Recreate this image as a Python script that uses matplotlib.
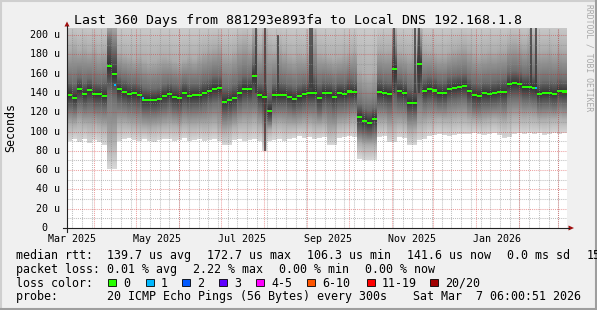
import numpy as np
import pandas as pd
import matplotlib
matplotlib.use('Agg')
import matplotlib.pyplot as plt
import matplotlib.dates as mdates
from matplotlib.transforms import blended_transform_factory
from matplotlib.patches import Rectangle, Polygon
from matplotlib.lines import Line2D

# --- USTAWIENIA ---
W, H = 597, 310
plt.rcParams['font.family'] = ['DejaVu Sans Mono', 'DejaVu Sans']

start = pd.Timestamp('2025-03-12 06:00')
end = pd.Timestamp('2026-03-07 06:00')
step_days = 3.6   # one column of the rrd archive

# median rtt in microseconds, one value per step
median = [
    138, 135, 144, 139, 143, 139, 139, 137, 168, 160,
    144, 141, 139, 139.5, 138, 133, 133, 133, 134, 137,
    139, 136, 135, 140, 137, 137.5, 137.5, 140, 142, 144.5,
    145, 131, 132.5, 135, 140, 144.5, 144, 158, 138, 136,
    121, 137.5, 138, 138, 136, 134, 136.5, 138.5, 140, 140,
    135, 140, 139.5, 136, 140, 139, 141.5, 141, 115, 111,
    109, 113, 141, 140, 139, 165, 142, 140, 130, 130,
    170, 142, 144, 142.5, 140, 140, 144, 145.5, 146.5, 147.5,
    142, 138, 137, 139.5, 139, 140, 141, 141, 149, 150,
    149.5, 146, 146, 145.5, 139, 140, 140, 139, 142, 141.5,
]

# smoke: lowest ping, outer band, dark core band, highest ping
smoke_min = [
    90, 92, 89, 92, 88, 91, 89, 86, 61, 61,
    90, 92, 93, 91, 90, 92, 90, 89, 91, 92,
    92, 90, 91, 93, 90, 91, 92, 90, 91, 92,
    90, 86, 86, 91, 92, 90, 91, 92, 90, 80,
    90, 91, 92, 90, 92, 93, 95, 93, 94, 92,
    93, 94, 86, 86, 93, 94, 95, 94, 72, 70,
    70, 71, 94, 95, 89, 89, 94, 93, 86, 86,
    91, 92, 95, 96, 97, 96, 95, 96, 97, 97,
    97, 98, 97, 96, 97, 98, 96, 93, 94, 97,
    98, 97, 98, 97, 98, 96, 97, 98, 97, 98,
]
smoke_p10 = [
    108, 107, 110, 108, 107, 108, 106, 104, 90, 92,
    108, 108, 107, 106, 105, 104, 103, 104, 105, 106,
    107, 106, 105, 107, 106, 106, 107, 106, 107, 108,
    104, 100, 102, 105, 108, 109, 108, 110, 106, 98,
    102, 107, 108, 107, 106, 106, 107, 108, 108, 106,
    106, 107, 100, 101, 107, 108, 109, 110, 88, 86,
    86, 86, 108, 109, 104, 106, 108, 107, 100, 101,
    108, 109, 111, 112, 113, 112, 112, 113, 114, 114,
    112, 111, 110, 111, 112, 113, 112, 110, 113, 115,
    115, 114, 115, 114, 112, 112, 113, 113, 114, 113,
]
smoke_p30 = [
    124, 122, 128, 125, 127, 125, 125, 124, 140, 135,
    128, 127, 125, 125, 124, 120, 120, 120, 121, 123,
    125, 122, 121, 125, 123, 124, 124, 126, 128, 130,
    130, 117, 118, 121, 126, 129, 129, 130, 124, 118,
    110, 124, 125, 125, 123, 121, 123, 125, 126, 126,
    120, 125, 124, 121, 125, 125, 127, 127, 100, 98,
    97, 99, 127, 126, 124, 130, 127, 126, 117, 117,
    135, 128, 130, 129, 127, 127, 131, 132, 133, 134,
    128, 124, 124, 126, 126, 127, 128, 127, 134, 135,
    135, 132, 132, 131, 126, 127, 127, 126, 129, 128,
]
smoke_p70 = [
    152, 150, 156, 152, 155, 152, 151, 152, 195, 185,
    157, 154, 152, 151, 150, 146, 145, 145, 146, 149,
    151, 149, 148, 152, 150, 150, 150, 153, 155, 158,
    158, 146, 146, 149, 154, 158, 157, 172, 151, 150,
    140, 150, 152, 151, 149, 147, 149, 151, 153, 160,
    150, 153, 152, 150, 152, 152, 155, 154, 128, 124,
    122, 125, 155, 153, 152, 180, 155, 153, 146, 146,
    185, 155, 157, 156, 153, 153, 157, 158, 159, 160,
    155, 151, 150, 152, 152, 153, 154, 155, 162, 163,
    162, 159, 160, 158, 152, 153, 153, 152, 155, 154,
]
smoke_p90 = [
    186, 190, 185, 188, 184, 187, 183, 186, 210, 210,
    182, 180, 178, 176, 178, 175, 172, 174, 176, 178,
    176, 174, 172, 175, 178, 176, 180, 184, 186, 188,
    190, 182, 180, 184, 192, 195, 190, 205, 186, 200,
    188, 185, 190, 184, 180, 178, 182, 180, 183, 200,
    182, 180, 178, 176, 178, 180, 182, 184, 165, 160,
    158, 162, 186, 184, 185, 205, 184, 182, 180, 182,
    205, 186, 184, 182, 180, 180, 183, 186, 188, 190,
    186, 182, 180, 182, 184, 183, 185, 186, 192, 194,
    192, 190, 195, 196, 184, 185, 186, 184, 186, 185,
]
smoke_max = 215   # highest ping is above the top of the graph almost everywhere

# single slow pings, drawn as thin dark streaks
spike_dates = ['2025-07-26', '2025-08-02', '2025-08-11', '2025-09-03', '2025-09-05',
               '2025-11-03', '2025-11-18', '2025-11-21', '2026-02-09', '2026-02-13']
spike_lo = [140, 80, 140, 145, 145, 140, 140, 140, 145, 140]
spike_hi = [210, 210, 200, 210, 210, 210, 210, 210, 210, 210]

# steps with one lost ping
loss_dates = ['2025-04-15', '2025-05-05', '2026-02-12']
loss_rtt = [148, 135, 145]

ytick_values = [0, 20, 40, 60, 80, 100, 120, 140, 160, 180, 200]
xtick_labels = ['Mar 2025', 'May 2025', 'Jul 2025', 'Sep 2025', 'Nov 2025', 'Jan 2026']
xtick_dates = ['2025-03-16', '2025-05-16', '2025-07-16', '2025-09-16', '2025-11-16', '2026-01-16']

loss_names = ['0', '1', '2', '3', '4-5', '6-10', '11-19', '20/20']
loss_colors = ['#26ff00', '#00b8ff', '#0059ff', '#5e00ff', '#ff00ff', '#ff5500', '#ff0000', '#a10000']

legend_rtt = ['median rtt:  139.7 us avg', '172.7 us max', '106.3 us min', '141.6 us now',
              '0.0 ms sd', '15']
legend_loss = ['packet loss: 0.01 % avg', '2.22 % max', '0.00 % min', '0.00 % now']

# grey level of the smoke at min, p10, p30, median, p70, p90, max
shade = [0.85, 0.68, 0.43, 0.2, 0.43, 0.68, 0.82]
# --------------------


def fx(px):
    return px / W


def fy(py):
    return 1 - py / H


def ext(a):
    # repeat last value so step='post' draws the last column too
    a = np.asarray(a, dtype=float)
    return np.append(a, a[-1])


def legend_row(items, py, fs=8.4):
    # rrdtool puts a fixed gap of a bit more than two characters between items
    x = 16
    for it in items:
        fig.text(fx(x), fy(py), it, ha='left', va='baseline', fontsize=fs)
        x += len(it) * 7.02 + 15.8


fig = plt.figure(figsize=(W / 100, H / 100), dpi=100, facecolor='#f0f0f0')
ax = fig.add_axes([fx(67), fy(228), 500 / W, 200 / H])
ax.set_facecolor('white')
for s in ax.spines.values():
    s.set_visible(False)

t0 = mdates.date2num(start)
t = t0 + np.arange(len(median) + 1) * step_days

# smoke as a grey picture, one column per step, darkest at the median
yy = np.linspace(0, smoke_max, 860)
img = np.zeros((len(yy), len(median), 4))
for c in range(len(median)):
    xp = [smoke_min[c], smoke_p10[c], smoke_p30[c], median[c], smoke_p70[c], smoke_p90[c], smoke_max]
    g = np.interp(yy, xp, shade)
    inside = yy >= smoke_min[c]
    img[inside, c, 0] = g[inside]
    img[inside, c, 1] = g[inside]
    img[inside, c, 2] = g[inside]
    img[inside, c, 3] = 1
ax.imshow(img, extent=[t[0], t[-1], 0, smoke_max], origin='lower', aspect='auto',
          interpolation='nearest', zorder=1)
ax.vlines(mdates.date2num(pd.to_datetime(spike_dates)), spike_lo, spike_hi,
          color='#3a3a3a', lw=1.1, zorder=3.5)

# grid on top of the smoke
gkw = dict(lw=0.75, linestyle=(0, (1, 1)), zorder=4)
for d in pd.date_range(start.normalize(), end, freq='W-SUN'):
    ax.axvline(mdates.date2num(d), color='#8c8c8c', alpha=0.55, **gkw)
for v in range(10, 210, 20):
    ax.axhline(v, color='#8c8c8c', alpha=0.55, **gkw)
for d in pd.date_range('2025-04-01', end, freq='MS'):
    ax.axvline(mdates.date2num(d), color='#d42020', alpha=0.42, **gkw)
for v in range(20, 210, 20):
    ax.axhline(v, color='#d42020', alpha=0.42, **gkw)

# median as short green bars
med = ext(median)
ax.fill_between(t, med - 1.1, med + 1.1, step='post', color=loss_colors[0], lw=0, zorder=5)
for d, v in zip(loss_dates, loss_rtt):
    d0 = mdates.date2num(pd.Timestamp(d))
    ax.fill_between([d0, d0 + 1.5], v - 1.1, v + 1.1, color=loss_colors[1], lw=0, zorder=5.5)

ax.set_xlim(t0, mdates.date2num(end))
ax.set_ylim(0, 207.3)
ax.set_xticks([])
ax.set_yticks([])

# tick labels
tr_y = blended_transform_factory(fig.transFigure, ax.transData)
for v in ytick_values:
    lab = f'{v:3d} u' if v > 0 else '  0'
    ax.text(fx(29.5), v, lab, transform=tr_y, ha='left', va='center', fontsize=7.2, color='black')
tr_x = blended_transform_factory(ax.transData, fig.transFigure)
for d, lab in zip(xtick_dates, xtick_labels):
    ax.text(mdates.date2num(pd.Timestamp(d)), fy(241.5), lab, transform=tr_x,
            ha='center', va='baseline', fontsize=7.2, color='black')

# axes with arrows
fig.add_artist(Line2D([fx(63), fx(569)], [fy(228), fy(228)], color='#222222', lw=0.8))
fig.add_artist(Line2D([fx(67), fx(67)], [fy(232), fy(26)], color='#222222', lw=0.8))
fig.add_artist(Polygon([[fx(568.5), fy(225.5)], [fx(574), fy(228)], [fx(568.5), fy(230.5)]],
                       closed=True, transform=fig.transFigure, color='#a01010', lw=0))
fig.add_artist(Polygon([[fx(64.5), fy(26.5)], [fx(67), fy(21.5)], [fx(69.5), fy(26.5)]],
                       closed=True, transform=fig.transFigure, color='#a01010', lw=0))

# titles
fig.text(fx(298.5), fy(24.3), 'Last 360 Days from 881293e893fa to Local DNS 192.168.1.8',
         ha='center', va='baseline', fontsize=9.5)
fig.text(fx(11), fy(128), 'Seconds', rotation=90, ha='center', va='center', fontsize=8.4)
fig.text(fx(588.5), fy(58), 'RRDTOOL / TOBI OETIKER', rotation=270, ha='center', va='center',
         fontsize=5.8, color='#a8a8a8')

# legend
fs = 8.4
legend_row(legend_rtt, 259.3)
legend_row(legend_loss, 273)
fig.text(fx(16), fy(286.7), 'loss color:', ha='left', va='baseline', fontsize=fs)
box_x = [108, 146, 182, 219, 256, 307, 367, 430]
for bx, name, col in zip(box_x, loss_names, loss_colors):
    fig.add_artist(Rectangle((fx(bx), fy(286)), 7.5 / W, 7.5 / H, transform=fig.transFigure,
                             facecolor=col, edgecolor='black', lw=0.6))
    fig.text(fx(bx + 15), fy(286.7), name, ha='left', va='baseline', fontsize=fs)
fig.text(fx(16), fy(300.4), 'probe:       20 ICMP Echo Pings (56 Bytes) every 300s',
         ha='left', va='baseline', fontsize=fs)
fig.text(fx(413), fy(300.4), 'Sat Mar  7 06:00:51 2026', ha='left', va='baseline', fontsize=fs)

# 3d frame of rrdtool
fig.add_artist(Line2D([0, 1], [fy(0.5), fy(0.5)], color='#cfcfcf', lw=1.5))
fig.add_artist(Line2D([fx(0.5), fx(0.5)], [0, 1], color='#cfcfcf', lw=1.5))
fig.add_artist(Line2D([0, 1], [fy(309), fy(309)], color='#9e9e9e', lw=1.5))
fig.add_artist(Line2D([fx(596), fx(596)], [0, 1], color='#9e9e9e', lw=1.5))

fig.savefig('out.png', dpi=100, facecolor=fig.get_facecolor())
